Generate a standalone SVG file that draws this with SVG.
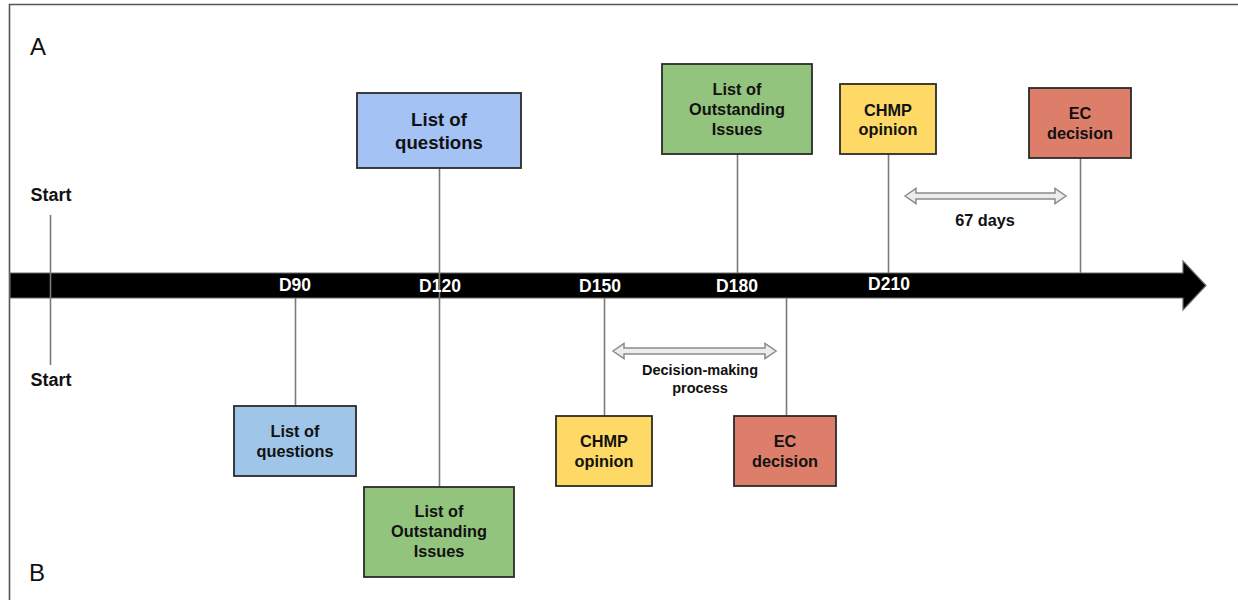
<svg xmlns="http://www.w3.org/2000/svg" width="1238" height="600" viewBox="0 0 1238 600">
  <style>
    text { font-family: "Liberation Sans", Arial, sans-serif; fill: #111; }
    .b { font-weight: bold; text-anchor: middle; }
    .m { font-size: 16.3px; }
    .box { stroke: #2b2b2b; stroke-width: 1.8; }
    .conn { stroke: #7a7a7a; stroke-width: 1.6; fill: none; }
    .span { fill: #ececec; stroke: #8a8a8a; stroke-width: 1.5; }
    .tick { fill: #fff; font-weight: bold; text-anchor: middle; font-size: 17.5px; }
  </style>

  <rect width="1238" height="600" fill="#fff"/>
  <!-- frame -->
  <path d="M9.5 600 V4.5 H1238" fill="none" stroke="#555" stroke-width="1.6"/>

  <!-- panel letters -->
  <text x="30" y="55" font-size="24">A</text>
  <text x="29" y="581" font-size="24">B</text>

  <!-- time axis -->
  <path id="axis" d="M10 273 H1183 V261 L1206 285.5 L1183 310 V298 H10 Z" fill="#000" stroke="#6a6a6a" stroke-width="1.2"/>

  <!-- connectors -->
  <g id="connectors">
    <line class="conn" x1="50.5" y1="215" x2="50.5" y2="365"/>
    <line class="conn" x1="439.5" y1="168" x2="439.5" y2="487"/>
    <line class="conn" x1="737.5" y1="154" x2="737.5" y2="273"/>
    <line class="conn" x1="888.5" y1="154" x2="888.5" y2="273"/>
    <line class="conn" x1="1080.5" y1="158" x2="1080.5" y2="273"/>
    <line class="conn" x1="295.5" y1="298" x2="295.5" y2="406"/>
    <line class="conn" x1="604.5" y1="298" x2="604.5" y2="416"/>
    <line class="conn" x1="786.5" y1="298" x2="786.5" y2="416"/>
  </g>

  <!-- day ticks -->
  <g id="ticks">
    <text class="tick" x="295" y="291">D90</text>
    <text class="tick" x="440" y="292">D120</text>
    <text class="tick" x="600" y="292">D150</text>
    <text class="tick" x="737" y="292">D180</text>
    <text class="tick" x="889" y="290">D210</text>
  </g>

  <!-- start markers -->
  <g id="start-a"><text class="b" x="51" y="201" font-size="18">Start</text></g>
  <g id="start-b"><text class="b" x="51" y="386" font-size="18">Start</text></g>

  <!-- A: top row -->
  <g id="a-loq">
    <rect class="box" x="357" y="93" width="164" height="75" fill="#a4c2f4"/>
    <text class="b" x="439" y="126" font-size="18.6">List of</text>
    <text class="b" x="439" y="149" font-size="18.6">questions</text>
  </g>
  <g id="a-loi">
    <rect class="box" x="662" y="64" width="150" height="90" fill="#93c47d"/>
    <text class="b m" x="737" y="95">List of</text>
    <text class="b m" x="737" y="115">Outstanding</text>
    <text class="b m" x="737" y="135">Issues</text>
  </g>
  <g id="a-chmp">
    <rect class="box" x="840" y="84" width="96" height="70" fill="#ffd966"/>
    <text class="b m" x="888" y="116">CHMP</text>
    <text class="b m" x="888" y="135">opinion</text>
  </g>
  <g id="a-ec">
    <rect class="box" x="1029" y="88" width="102" height="70" fill="#dd7e6b"/>
    <text class="b m" x="1080" y="119">EC</text>
    <text class="b m" x="1080" y="139">decision</text>
  </g>
  <g id="a-span">
    <path class="span" d="M905 196 L916 188.5 V193 H1055 V188.5 L1066 196 L1055 203.5 V199 H916 V203.5 Z"/>
    <text class="b" x="985" y="226" font-size="16.3">67 days</text>
  </g>

  <!-- B: bottom row -->
  <g id="b-loq">
    <rect class="box" x="234" y="406" width="122" height="70" fill="#9fc5e8"/>
    <text class="b m" x="295" y="437">List of</text>
    <text class="b m" x="295" y="457">questions</text>
  </g>
  <g id="b-loi">
    <rect class="box" x="364" y="487" width="150" height="90" fill="#93c47d"/>
    <text class="b m" x="439" y="517">List of</text>
    <text class="b m" x="439" y="537">Outstanding</text>
    <text class="b m" x="439" y="557">Issues</text>
  </g>
  <g id="b-chmp">
    <rect class="box" x="556" y="416" width="96" height="70" fill="#ffd966"/>
    <text class="b m" x="604" y="447">CHMP</text>
    <text class="b m" x="604" y="467">opinion</text>
  </g>
  <g id="b-ec">
    <rect class="box" x="734" y="416" width="102" height="70" fill="#dd7e6b"/>
    <text class="b m" x="785" y="447">EC</text>
    <text class="b m" x="785" y="467">decision</text>
  </g>
  <g id="b-span">
    <path class="span" d="M613 351 L624 343.5 V348 H765 V343.5 L776 351 L765 358.5 V354 H624 V358.5 Z"/>
    <text class="b" x="700" y="375" font-size="14.5">Decision-making</text>
    <text class="b" x="700" y="393" font-size="14.5">process</text>
  </g>
</svg>
